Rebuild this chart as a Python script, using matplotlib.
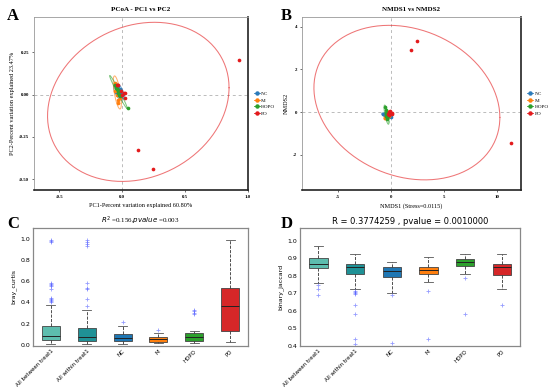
import matplotlib
matplotlib.use("Agg")
import matplotlib.pyplot as plt
from matplotlib.lines import Line2D
import numpy as np

groups = ["NC", "M", "HOPO", "PO"]
group_colors = ["#2b7bba", "#ff7f0e", "#2ca02c", "#e31a1c"]

# PCoA (panel A)
nc_pc1 = [-0.05, -0.035, -0.04, -0.02, -0.03, -0.015, -0.025, -0.01, 0.005, -0.045]
nc_pc2 = [0.045, 0.05, 0.02, 0.035, 0.0, 0.01, 0.025, -0.015, 0.005, 0.015]
m_pc1 = [-0.06, -0.05, -0.04, -0.055, -0.03, -0.04, -0.025, -0.035, -0.02, -0.03]
m_pc2 = [0.07, 0.05, 0.06, 0.02, 0.03, 0.0, 0.0, -0.03, -0.02, -0.05]
hopo_pc1 = [-0.06, -0.05, -0.045, -0.04, -0.035, -0.03, -0.03, -0.025, -0.02, 0.045]
hopo_pc2 = [0.06, 0.05, 0.04, 0.035, 0.03, 0.02, 0.01, 0.0, -0.01, -0.08]
po_pc1 = [-0.04, -0.03, -0.01, 0.0, 0.015, 0.02, 0.025, 0.93, 0.13, 0.245]
po_pc2 = [0.055, 0.06, 0.02, 0.0, 0.01, -0.018, 0.01, 0.205, -0.33, -0.44]

# NMDS (panel B)
nc_nmds1 = [-0.7, -0.6, -0.5, -0.45, -0.4, -0.35, -0.3, -0.25, -0.15, 0.0]
nc_nmds2 = [-0.1, -0.15, -0.2, -0.1, -0.15, -0.2, -0.15, -0.1, -0.2, -0.25]
m_nmds1 = [-0.55, -0.5, -0.45, -0.4, -0.35, -0.3, -0.3, -0.25, -0.2, -0.15]
m_nmds2 = [-0.3, -0.25, -0.2, -0.15, -0.1, -0.1, -0.05, 0.0, -0.2, -0.15]
hopo_nmds1 = [-0.57, -0.5, -0.48, -0.45, -0.42, -0.4, -0.38, -0.35, -0.3, -0.25]
hopo_nmds2 = [0.25, 0.1, -0.05, -0.1, -0.2, -0.25, -0.3, -0.35, -0.15, -0.2]
po_nmds1 = [-0.3, -0.2, -0.1, 0.0, 0.06, 0.1, -0.15, 1.93, 2.44, 11.36]
po_nmds2 = [-0.1, 0.0, 0.05, -0.05, -0.1, -0.05, -0.15, 2.92, 3.34, -1.44]

# distance boxplots (panels C, D)
box_labels = ["All between treat1", "All within treat1", "NC", "M", "HOPO", "PO"]
box_colors = ["#5dbdae", "#1f9196", "#1f77b4", "#ff7f0e", "#2ca02c", "#d62728"]

bray_low = [0.01, 0.01, 0.013, 0.016, 0.019, 0.025]
bray_q1 = [0.047, 0.038, 0.038, 0.031, 0.038, 0.132]
bray_med = [0.088, 0.079, 0.063, 0.053, 0.075, 0.37]
bray_q3 = [0.182, 0.157, 0.104, 0.072, 0.11, 0.54]
bray_high = [0.377, 0.333, 0.18, 0.116, 0.132, 0.99]
bray_fliers = [
    [0.40, 0.41, 0.42, 0.43, 0.44, 0.53, 0.55, 0.56, 0.57, 0.58, 0.97, 0.98, 0.99],
    [0.37, 0.43, 0.53, 0.54, 0.58, 0.93, 0.95, 0.97, 0.99],
    [0.22],
    [0.14],
    [0.29, 0.30, 0.32, 0.33],
    [],
]

jac_low = [0.762, 0.724, 0.703, 0.764, 0.811, 0.724]
jac_q1 = [0.846, 0.811, 0.792, 0.81, 0.857, 0.804]
jac_med = [0.869, 0.848, 0.827, 0.836, 0.88, 0.848]
jac_q3 = [0.903, 0.869, 0.851, 0.851, 0.899, 0.867]
jac_high = [0.971, 0.926, 0.88, 0.907, 0.926, 0.926]
jac_fliers = [
    [0.747, 0.724, 0.69],
    [0.715, 0.709, 0.70, 0.695, 0.636, 0.581, 0.438, 0.413],
    [0.69, 0.417],
    [0.712, 0.442],
    [0.79, 0.581],
    [0.636],
]


def ellipse_xy(x, y, n_std=2.448):
    # 95% ellipse from the sample covariance
    pts = np.column_stack([x, y])
    loc = pts.mean(axis=0)
    cov = np.cov(pts.T)
    t = np.linspace(0, 2 * np.pi, 200)
    circle = np.column_stack([np.cos(t), np.sin(t)])
    ch = np.linalg.cholesky(cov)
    e = loc + n_std * circle @ ch.T
    return e[:, 0], e[:, 1]


def ord_panel(ax, xs, ys, title, xlabel, ylabel, xlim, ylim, xticks, yticks, yfmt):
    serif = "Liberation Serif"
    ax.axhline(0, color="#bbbbbb", ls=(0, (3, 3)), lw=0.7, zorder=0)
    ax.axvline(0, color="#bbbbbb", ls=(0, (3, 3)), lw=0.7, zorder=0)
    for g, c, x, y in zip(groups, group_colors, xs, ys):
        ex, ey = ellipse_xy(x, y)
        ax.plot(ex, ey, color=c, lw=0.75, alpha=0.6)
        ax.scatter(x, y, s=7, color=c, zorder=3, linewidths=0)
    ax.set_xlim(xlim)
    ax.set_ylim(ylim)
    ax.set_xticks(xticks)
    ax.set_yticks(yticks)
    ax.set_xticklabels([yfmt[0].format(v) for v in xticks], fontsize=3.5,
                       family=serif, fontweight="bold")
    ax.set_yticklabels([yfmt[1].format(v) for v in yticks], fontsize=3.5,
                       family=serif, fontweight="bold")
    ax.tick_params(length=1.5, width=0.4, pad=2)
    ax.set_title(title, fontsize=5, family=serif, fontweight="bold", pad=4)
    ax.set_xlabel(xlabel, fontsize=4.5, family=serif, labelpad=3)
    ax.set_ylabel(ylabel, fontsize=4.5, family=serif, labelpad=3)
    for s in ["left", "top"]:
        ax.spines[s].set_color("#999999")
        ax.spines[s].set_linewidth(0.6)
    for s in ["right", "bottom"]:
        ax.spines[s].set_color("#222222")
        ax.spines[s].set_linewidth(1.2)
    handles = [Line2D([], [], color=c, marker="o", ms=2.2, lw=0.6) for c in group_colors]
    ax.legend(handles, groups, loc="center left", bbox_to_anchor=(1.02, 0.5),
              frameon=False, prop={"family": serif, "size": 3.8},
              handlelength=1.0, handletextpad=0.3, labelspacing=0.35,
              borderaxespad=0)


def box_panel(ax, low, q1, med, q3, high, fliers, ylim, yticks, ylabel, title, tfont):
    stats = []
    for i in range(len(box_labels)):
        stats.append({"whislo": low[i], "q1": q1[i], "med": med[i], "q3": q3[i],
                      "whishi": high[i], "fliers": fliers[i]})
    bp = ax.bxp(stats, positions=range(1, 7), widths=0.5, patch_artist=True,
                boxprops={"edgecolor": "#444444", "linewidth": 0.6},
                medianprops={"color": "#222222", "linewidth": 0.7},
                whiskerprops={"color": "#333333", "linestyle": "--", "linewidth": 0.6},
                capprops={"color": "#555555", "linewidth": 0.6},
                flierprops={"marker": "+", "markeredgecolor": "#4f5bff", "markersize": 2.5,
                            "alpha": 0.6, "markeredgewidth": 0.6})
    for patch, c in zip(bp["boxes"], box_colors):
        patch.set_facecolor(c)
    ax.set_xlim(0.5, 6.5)
    ax.set_ylim(ylim)
    ax.set_yticks(yticks)
    ax.set_yticklabels(["{:.1f}".format(v) for v in yticks], fontsize=4.5)
    ax.set_xticks(range(1, 7))
    ax.set_xticklabels(box_labels, rotation=45, ha="right", rotation_mode="anchor", fontsize=4)
    ax.tick_params(length=0, pad=2)
    ax.set_ylabel(ylabel, fontsize=4.5, labelpad=3)
    ax.set_title(title, pad=3, **tfont)
    for s in ax.spines.values():
        s.set_color("#888888")
        s.set_linewidth(0.9)


W, H = 550, 387
fig = plt.figure(figsize=(W / 100, H / 100), dpi=100)


def px_axes(left, top, right, bottom):
    return fig.add_axes([left / W, 1 - bottom / H, (right - left) / W, (bottom - top) / H])


axA = px_axes(34, 17, 248, 190)
ord_panel(axA, [nc_pc1, m_pc1, hopo_pc1, po_pc1], [nc_pc2, m_pc2, hopo_pc2, po_pc2],
          "PCoA - PC1 vs PC2", "PC1-Percent variation explained 60.80%",
          "PC2-Percent variation explained 23.47%", (-0.7, 1.0), (-0.565, 0.46),
          [-0.5, 0.0, 0.5, 1.0], [-0.5, -0.25, 0.0, 0.25], ("{:.1f}", "{:.2f}"))

axB = px_axes(302, 17, 521, 190)
ord_panel(axB, [nc_nmds1, m_nmds1, hopo_nmds1, po_nmds1],
          [nc_nmds2, m_nmds2, hopo_nmds2, po_nmds2],
          "NMDS1 vs NMDS2", "NMDS1 (Stress=0.0115)", "NMDS2", (-8.4, 12.3), (-3.67, 4.47),
          [-5, 0, 5, 10], [-2, 0, 2, 4], ("{:d}", "{:d}"))

axC = px_axes(33, 228, 248, 346)
box_panel(axC, bray_low, bray_q1, bray_med, bray_q3, bray_high, bray_fliers,
          (-0.01, 1.1), [0.0, 0.2, 0.4, 0.6, 0.8, 1.0], "bray_curtis",
          r"$R^2$ =0.156,$pvalue$ =0.003",
          {"fontsize": 5, "family": "Liberation Serif"})

axD = px_axes(300, 228, 520, 346)
box_panel(axD, jac_low, jac_q1, jac_med, jac_q3, jac_high, jac_fliers,
          (0.4, 1.073), [0.4, 0.5, 0.6, 0.7, 0.8, 0.9, 1.0], "binary_jaccard",
          "R = 0.3774259 , pvalue = 0.0010000", {"fontsize": 6})

for lab, x, y in [("A", 7, 8), ("B", 281, 8), ("C", 7, 216), ("D", 281, 216)]:
    fig.text(x / W, 1 - y / H, lab, fontsize=12, fontweight="bold",
             family="Liberation Serif", va="top", ha="left")

fig.savefig("out.png", dpi=100)
